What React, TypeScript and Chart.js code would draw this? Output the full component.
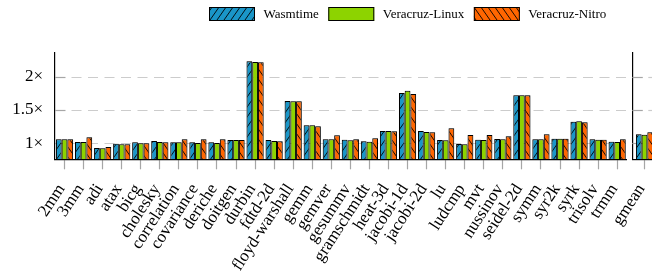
import React, { useEffect, useRef } from 'react';
import { Chart, registerables } from 'chart.js';

Chart.register(...registerables);

const categories = [
  '2mm', '3mm', 'adi', 'atax', 'bicg', 'cholesky', 'correlation', 'covariance', 'deriche', 'doitgen',
  'durbin', 'fdtd-2d', 'floyd-warshall', 'gemm', 'gemver', 'gesummv', 'gramschmidt', 'heat-3d', 'jacobi-1d', 'jacobi-2d',
  'lu', 'ludcmp', 'mvt', 'nussinov', 'seidel-2d', 'symm', 'syr2k', 'syrk', 'trisolv', 'trmm',
];
const wasmtime = [
  1.06, 1.02, 0.93, 0.995, 1.015, 1.035, 1.015, 1.015, 1.015, 1.05,
  2.23, 1.05, 1.635, 1.27, 1.06, 1.055, 1.03, 1.185, 1.755, 1.185,
  1.05, 0.99, 1.055, 1.065, 1.72, 1.06, 1.07, 1.325, 1.06, 1.025,
];
const veracruzLinux = [
  1.06, 1.02, 0.925, 0.985, 1.0, 1.02, 1.015, 1.005, 1.005, 1.05,
  2.22, 1.035, 1.63, 1.27, 1.06, 1.045, 1.025, 1.185, 1.79, 1.17,
  1.045, 0.985, 1.05, 1.06, 1.72, 1.06, 1.07, 1.33, 1.055, 1.02,
];
const veracruzNitro = [
  1.06, 1.09, 0.945, 0.985, 1.0, 1.015, 1.06, 1.06, 1.06, 1.05,
  2.215, 1.03, 1.63, 1.255, 1.12, 1.06, 1.075, 1.18, 1.74, 1.165,
  1.225, 1.125, 1.125, 1.105, 1.72, 1.135, 1.07, 1.315, 1.055, 1.06,
];
const gmeanCategories = ['gmean'];
const gmeanWasmtime = [1.135];
const gmeanLinux = [1.13];
const gmeanNitro = [1.165];
const yTickValues = [1, 1.5, 2];
const yTickLabels = ['1×', '1.5×', '2×'];
const seriesNames = ['Wasmtime', 'Veracruz-Linux', 'Veracruz-Nitro'];

const BLUE = '#1a96c8';
const GREEN = '#8dd300';
const ORANGE = '#ff6600';
const FONT = "'Liberation Serif', 'Times New Roman', serif";
const Y_MIN = 0.76;
const Y_MAX = 2.36;

function makeHatch(color: string, dir: number): CanvasPattern | string {
  const w = 7;
  const h = 10;
  const c = document.createElement('canvas');
  c.width = w;
  c.height = h;
  const g = c.getContext('2d');
  if (!g) return color;
  g.fillStyle = color;
  g.fillRect(0, 0, w, h);
  g.strokeStyle = '#000';
  g.lineWidth = 0.9;
  g.beginPath();
  for (let k = -1; k <= 1; k++) {
    if (dir > 0) {
      g.moveTo(k * w, h);
      g.lineTo(k * w + w, 0);
    } else {
      g.moveTo(k * w, 0);
      g.lineTo(k * w + w, h);
    }
  }
  g.stroke();
  return g.createPattern(c, 'repeat') || color;
}

const dashGrid = {
  id: 'dashGrid',
  beforeDatasetsDraw(chart: any, _args: any, opts: any) {
    const { ctx, chartArea } = chart;
    const ys = chart.scales.y;
    ctx.save();
    for (const v of yTickValues) {
      const py = Math.round(ys.getPixelForValue(v)) + 0.5;
      ctx.setLineDash([]);
      ctx.strokeStyle = '#a6a6a6';
      ctx.lineWidth = 1.2;
      ctx.beginPath();
      ctx.moveTo(chartArea.left, py);
      ctx.lineTo(chartArea.left + 10.5, py);
      ctx.stroke();
      ctx.strokeStyle = '#cccccc';
      ctx.setLineDash([10, 6.5]);
      ctx.beginPath();
      ctx.moveTo(chartArea.left + (opts.dashStart || 16.5), py);
      ctx.lineTo(chartArea.right, py);
      ctx.stroke();
    }
    ctx.restore();
    // soft grey halo around the bars
    ctx.save();
    ctx.shadowColor = 'rgba(0,0,0,0.35)';
    ctx.shadowBlur = 2;
  },
  afterDatasetsDraw(chart: any) {
    chart.ctx.restore();
  },
};

const customLegend = {
  id: 'customLegend',
  afterDraw(chart: any, _args: any, opts: any) {
    const { ctx } = chart;
    const fills = opts.fills as any[];
    ctx.save();
    ctx.font = `13px ${FONT}`;
    ctx.textBaseline = 'middle';
    ctx.fillStyle = '#000';
    let x = opts.x;
    const y = opts.y;
    seriesNames.forEach((name, i) => {
      ctx.fillStyle = fills[i];
      ctx.fillRect(x, y, 46, 14);
      ctx.strokeStyle = '#000';
      ctx.lineWidth = 1;
      ctx.strokeRect(x + 0.5, y + 0.5, 45, 13);
      x += 46 + 8.5;
      ctx.fillStyle = '#000';
      ctx.fillText(name, x, y + 7.5);
      x += ctx.measureText(name).width + 9.5;
    });
    ctx.restore();
  },
};

function buildOptions(showYLabels: boolean, yWidth: number, padRight: number, dashStart: number, extraPlugins: any) {
  return {
    animation: false as const,
    responsive: false,
    devicePixelRatio: 1,
    events: [] as any[],
    layout: { padding: { top: 52.7, right: padRight, left: 0, bottom: 0 } },
    plugins: {
      legend: { display: false },
      tooltip: { enabled: false },
      dashGrid: { dashStart },
      ...extraPlugins,
    },
    scales: {
      x: {
        offset: true,
        grid: {
          display: true,
          offset: false,
          drawOnChartArea: false,
          drawTicks: true,
          tickLength: 10,
          tickColor: '#a6a6a6',
          tickWidth: 1.2,
        },
        border: { display: true, color: '#000', width: 1.2 },
        ticks: {
          autoSkip: false,
          minRotation: 57,
          maxRotation: 57,
          padding: 11,
          labelOffset: -3,
          color: '#000',
          font: { family: FONT, size: 17 },
        },
        afterFit: (s: any) => {
          s.height = 275 - 159.3;
          s.paddingLeft = 0;
          s.paddingRight = 0;
        },
      },
      y: {
        min: Y_MIN,
        max: Y_MAX,
        afterBuildTicks: (s: any) => {
          s.ticks = yTickValues.map((v) => ({ value: v }));
        },
        grid: { display: false, drawTicks: false },
        border: { display: true, color: '#000', width: 1.2 },
        ticks: {
          display: showYLabels,
          padding: 12,
          color: '#000',
          font: { family: FONT, size: 17 },
          callback: (_v: any, i: number) => yTickLabels[i],
        },
        afterFit: (s: any) => {
          s.width = yWidth;
          s.paddingTop = 0;
          s.paddingBottom = 0;
        },
      },
    },
  };
}

export default function App() {
  const mainRef = useRef<HTMLCanvasElement>(null);
  const gRef = useRef<HTMLCanvasElement>(null);

  useEffect(() => {
    const fills = [makeHatch(BLUE, 1), GREEN, makeHatch(ORANGE, -1)];
    const mk = (series: number[][], cp: number) =>
      series.map((data, i) => ({
        label: seriesNames[i],
        data,
        backgroundColor: fills[i],
        borderColor: '#000',
        borderWidth: 1,
        base: Y_MIN,
        categoryPercentage: cp,
        barPercentage: 1,
      }));

    const main = new Chart(mainRef.current as HTMLCanvasElement, {
      type: 'bar',
      data: {
        labels: categories,
        datasets: mk([wasmtime, veracruzLinux, veracruzNitro], 0.9) as any,
      },
      options: buildOptions(true, 55, 3.3, 16.5, { customLegend: { fills, x: 209, y: 7 } }) as any,
      plugins: [dashGrid, customLegend],
    });

    const gm = new Chart(gRef.current as HTMLCanvasElement, {
      type: 'bar',
      data: {
        labels: gmeanCategories,
        datasets: mk([gmeanWasmtime, gmeanLinux, gmeanNitro], 0.7) as any,
      },
      options: buildOptions(false, 32.3, 3.3, 16, {}) as any,
      plugins: [dashGrid],
    });

    return () => {
      main.destroy();
      gm.destroy();
    };
  }, []);

  return (
    <div
      style={{
        position: 'fixed',
        left: 0,
        top: 0,
        width: 652,
        height: 275,
        overflow: 'hidden',
        background: '#fff',
      }}
    >
      <canvas
        ref={mainRef}
        width={630}
        height={275}
        style={{ position: 'absolute', left: 0, top: 0, width: 630, height: 275 }}
      />
      <canvas
        ref={gRef}
        width={60}
        height={275}
        style={{ position: 'absolute', left: 600, top: 0, width: 60, height: 275 }}
      />
    </div>
  );
}
